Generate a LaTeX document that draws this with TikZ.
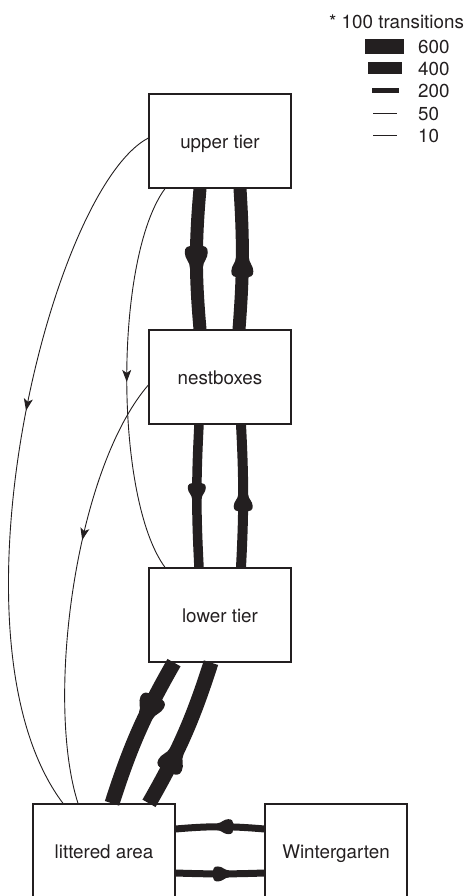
\documentclass[tikz,border=0pt]{standalone}
\usepackage{fontspec}
\setmainfont{TeX Gyre Heros}
\usetikzlibrary{arrows.meta,decorations.markings,calc}
\definecolor{ink}{HTML}{231F20}
\begin{document}
\begin{tikzpicture}[x=1pt,y=1pt,
  font=\fontsize{18.8}{22}\selectfont,
  every node/.style={text=ink},
  box/.style={draw=ink, line width=1.3pt, minimum width=142pt, minimum height=94pt,
    inner sep=0pt, text height=14.6pt, text depth=0pt},
  flow/.style={draw=ink, line width=#1},
  fine/.style={draw=ink, line width=0.9pt},
  finearrow/.style={postaction={decorate, decoration={markings,
    mark=at position #1 with {\arrow{Stealth[length=12pt,width=9pt,inset=3pt]}}}}},
  bulb/.style n args={4}{postaction={decorate, decoration={markings,
    mark=at position #1 with {\fill[ink] (0,#4/2)
      .. controls (-0.25*#2,#4/2) and (-0.4*#2,#3/2) .. (-0.68*#2,#3/2)
      .. controls (-0.92*#2,#3/2) and (-#2,0.42*#3) .. (-#2,0)
      .. controls (-#2,-0.42*#3) and (-0.92*#2,-#3/2) .. (-0.68*#2,-#3/2)
      .. controls (-0.4*#2,-#3/2) and (-0.25*#2,-#4/2) .. (0,-#4/2) -- cycle;}}}}
]
\useasboundingbox (0,0) rectangle (466,896);

% boxes
\node[box] (upper) at (220,755) {upper tier};
\node[box] (nest) at (220,519) {nestboxes};
\node[box] (lower) at (220,281) {lower tier};
\node[box] (litter) at (104,45) {littered area};
\node[box] (winter) at (336,45) {Wintergarten};

% thin connectors
\draw[fine, finearrow=0.43] ([yshift=3pt]upper.west)
  .. controls (50,706) and (-60,256) .. ([xshift=-41pt]litter.north);
\draw[fine, finearrow=0.51] ([xshift=-55pt]upper.south)
  .. controls (114,638) and (114,398) .. ([xshift=-55pt]lower.north);
\draw[fine, finearrow=0.39] ([yshift=-8pt]nest.west)
  .. controls (75,426) and (45,196) .. ([xshift=-26pt]litter.north);

% thick connectors
\draw[flow=13pt, bulb={0.56}{22}{23}{13}] ([xshift=-20pt]upper.south) to[bend right=5] ([xshift=-20pt]nest.north);
\draw[flow=13pt, bulb={0.51}{20}{22}{13}] ([xshift=19pt]nest.north) to[bend right=4] ([xshift=20pt]upper.south);

\draw[flow=9.5pt, bulb={0.52}{16}{18}{9.5}] ([xshift=-21pt]nest.south) to[bend right=3] ([xshift=-21pt]lower.north);
\draw[flow=10pt, bulb={0.51}{17}{19}{10}] ([xshift=21pt]lower.north) to[bend right=3] ([xshift=21pt]nest.south);

\draw[flow=15pt, bulb={0.39}{22}{26}{15}] ([xshift=-46pt]lower.south) to[bend right=6] ([xshift=8pt]litter.north);
\draw[flow=15pt, bulb={0.38}{22}{26}{15}] ([xshift=45pt]litter.north) to[bend right=6] ([xshift=-9pt]lower.south);

\draw[flow=7pt, bulb={0.53}{16}{15}{7}] ([yshift=22pt]winter.west) to[bend right=5] ([yshift=22pt]litter.east);
\draw[flow=7pt, bulb={0.6}{16}{15}{7}] ([yshift=-22pt]litter.east) to[bend right=2] ([yshift=-22pt]winter.west);

% legend
\node[anchor=base west, inner sep=0pt] (title) at (329,867.7) {* 100 transitions};
\fill[ink] (365,841.9) rectangle (404,856.7);
\fill[ink] (368,822) rectangle (402,834.3);
\fill[ink] (372,803.3) rectangle (399,808.3);
\fill[ink] (373,781.5) rectangle (397,783.1);
\fill[ink] (373,759.5) rectangle (397,760.5);
\node[anchor=base west, inner sep=0pt] (l600) at (418,842) {600};
\node[anchor=base west, inner sep=0pt] (l400) at (418,820.3) {400};
\node[anchor=base west, inner sep=0pt] (l200) at (418,798.7) {200};
\node[anchor=base west, inner sep=0pt] (l50) at (418,775.3) {50};
\node[anchor=base west, inner sep=0pt] (l10) at (418,753.3) {10};
\end{tikzpicture}
\end{document}
